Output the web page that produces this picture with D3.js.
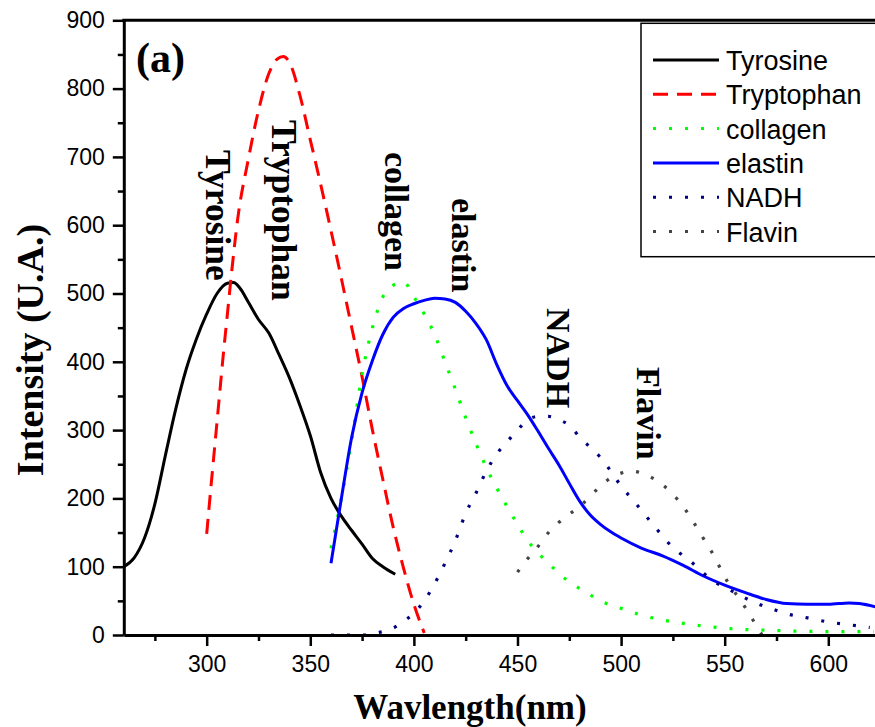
<!DOCTYPE html>
<html>
<head>
<meta charset="utf-8">
<script src="https://cdn.jsdelivr.net/npm/d3@7"></script>
<style>
  html, body { margin: 0; padding: 0; background: #fff; }
  svg { display: block; }
  .tick text { font-family: "Liberation Sans", Arial, sans-serif; font-size: 23px; fill: #000; }
</style>
</head>
<body>
<svg id="chart" width="875" height="727"></svg>
<script>
// Fluorescence emission spectra of endogenous fluorophores, [wavelength nm, intensity]
const tyrosine = [[260,100],[265,113],[270,142],[275,192],[280,262],[285,330],[290,388],[295,433],[300,470],[305,500],[310,515],[313,516],[316,508],[320,488],[325,462],[330,442],[335,410],[340,376],[345,336],[350,292],[355,238],[360,200],[365,174],[370,153],[375,133],[380,112],[385,100],[391,89]];
const tryptophan = [[300,148],[302,215],[304,280],[306,345],[308,410],[310,470],[312,530],[315,610],[320,695],[325,768],[330,822],[334,843],[337,847],[340,838],[345,790],[350,725],[355,660],[360,592],[365,522],[370,450],[375,378],[380,300],[385,228],[390,158],[395,98],[400,45],[405,3]];
const collagen = [[360,127],[365,200],[370,285],[375,382],[380,450],[385,495],[390,512],[395,517],[400,495],[405,470],[410,440],[415,400],[420,360],[425,318],[430,280],[435,245],[440,215],[445,188],[450,162],[455,138],[460,120],[465,105],[470,90],[475,78],[480,68],[485,59],[490,50],[500,39],[510,29],[520,22],[530,17],[540,13],[550,10],[560,8],[570,7],[580,6],[600,5],[622,5]];
const elastin = [[360,105],[365,200],[370,290],[375,355],[380,402],[385,440],[390,465],[395,478],[400,485],[405,490],[410,493],[415,492],[420,487],[425,474],[430,456],[435,432],[440,396],[445,365],[450,343],[455,322],[460,298],[465,273],[470,249],[475,222],[480,196],[485,176],[490,162],[495,151],[500,142],[510,127],[520,116],[530,102],[540,86],[550,73],[560,62],[570,52],[580,46],[590,45],[600,45],[610,47],[615,46],[623,41]];
const nadh = [[360,0],[370,0],[375,0],[380,2],[385,5],[390,10],[395,20],[400,32],[405,50],[410,75],[415,105],[420,138],[425,178],[430,208],[435,240],[440,265],[445,283],[450,300],[455,315],[460,320],[465,320],[470,315],[475,307],[480,290],[485,275],[490,260],[495,240],[500,218],[505,200],[510,182],[515,163],[520,145],[525,128],[530,116],[535,104],[540,90],[545,78],[550,70],[555,62],[560,54],[565,47],[570,41],[575,36],[580,31],[590,25],[600,19],[610,15],[620,11]];
const flavin = [[450,92],[455,112],[460,130],[465,150],[470,165],[475,177],[480,188],[485,203],[490,218],[495,230],[500,237],[505,240],[510,237],[515,230],[520,220],[525,206],[530,188],[535,165],[540,140],[545,115],[550,85],[555,62],[560,40],[565,15],[568,0]];

const seriesNames = ["Tyrosine", "Tryptophan", "collagen", "elastin", "NADH", "Flavin"];
const seriesData = [tyrosine, tryptophan, collagen, elastin, nadh, flavin];
const seriesColors = ["#000000", "#ff0000", "#00ff00", "#0000ff", "#000080", "#444444"];
const seriesDash = [null, "15 9", "3 13", null, "3 13", "3 13"];

const xMajorTicks = [300, 350, 400, 450, 500, 550, 600];
const xMinorTicks = [275, 325, 375, 425, 475, 525, 575, 625];
const yMajorTicks = [0, 100, 200, 300, 400, 500, 600, 700, 800, 900];
const yMinorTicks = [50, 150, 250, 350, 450, 550, 650, 750, 850];

// Band names written vertically beside each emission peak
const peakLabels = ["Tyrosine", "Tryptophan", "collagen", "elastin", "NADH", "Flavin"];
const peakLabelWl = [299.7, 331.5, 386.1, 418.4, 464.1, 507.5];
const peakLabelTop = [150, 120, 152, 198, 308, 367];

const svg = d3.select("#chart");
const x = d3.scaleLinear().domain([260, 625]).range([123.8, 880.1]);
const y = d3.scaleLinear().domain([0, 900]).range([635, 20.3]);

const serif = '"Liberation Serif", "Times New Roman", serif';
const sans = '"Liberation Sans", Arial, sans-serif';

// Curves
const line = d3.line().x(d => x(d[0])).y(d => y(d[1])).curve(d3.curveMonotoneX);
seriesData.forEach((data, i) => {
  svg.append("path")
    .datum(data)
    .attr("d", line)
    .attr("fill", "none")
    .attr("stroke", seriesColors[i])
    .attr("stroke-width", seriesDash[i] === "3 13" ? 3.2 : 3)
    .attr("stroke-dasharray", seriesDash[i])
    .attr("stroke-linejoin", "round");
});

// Axes
function styleAxis(g) {
  g.selectAll("path.domain").attr("stroke", "#000").attr("stroke-width", 3);
  g.selectAll(".tick line").attr("stroke", "#000").attr("stroke-width", 2.5);
}
svg.append("g").attr("transform", "translate(0,635)")
  .call(d3.axisBottom(x).tickValues(xMinorTicks).tickSize(6).tickSizeOuter(0).tickFormat(""))
  .call(g => g.select("path.domain").remove())
  .call(styleAxis);
svg.append("g").attr("transform", "translate(0,635)")
  .call(d3.axisBottom(x).tickValues(xMajorTicks).tickSize(11).tickSizeOuter(0).tickPadding(10))
  .call(styleAxis);
svg.append("g").attr("transform", "translate(123.8,0)")
  .call(d3.axisLeft(y).tickValues(yMinorTicks).tickSize(6).tickSizeOuter(0).tickFormat(""))
  .call(g => g.select("path.domain").remove())
  .call(styleAxis);
svg.append("g").attr("transform", "translate(123.8,0)")
  .call(d3.axisLeft(y).tickValues(yMajorTicks).tickSize(11).tickSizeOuter(0).tickPadding(8))
  .call(styleAxis);
// Top frame line
svg.append("line")
  .attr("x1", 122.3).attr("x2", 880).attr("y1", y(900)).attr("y2", y(900))
  .attr("stroke", "#000").attr("stroke-width", 3);

// Axis titles
svg.append("text")
  .attr("x", 470).attr("y", 719)
  .attr("text-anchor", "middle")
  .attr("font-family", serif).attr("font-weight", "bold").attr("font-size", 35)
  .text("Wavlength(nm)");
svg.append("text")
  .attr("transform", "translate(43,350) rotate(-90)")
  .attr("text-anchor", "middle")
  .attr("font-family", serif).attr("font-weight", "bold").attr("font-size", 38)
  .text("Intensity (U.A.)");

// Panel tag
svg.append("text")
  .attr("x", 136).attr("y", 72)
  .attr("font-family", serif).attr("font-weight", "bold").attr("font-size", 42)
  .text("(a)");

// Rotated peak names
peakLabels.forEach((t, i) => {
  svg.append("text")
    .attr("transform", `translate(${x(peakLabelWl[i])},${peakLabelTop[i]}) rotate(90)`)
    .attr("font-family", serif).attr("font-weight", "bold").attr("font-size", i < 2 ? 35.5 : 34)
    .text(t);
});

// Legend
const legend = svg.append("g");
legend.append("rect")
  .attr("x", 641).attr("y", 23.3).attr("width", 250).attr("height", 233.4)
  .attr("fill", "#fff").attr("stroke", "#000").attr("stroke-width", 1.5);
seriesNames.forEach((name, i) => {
  const ly = 60 + i * 34.3;
  legend.append("line")
    .attr("x1", 653).attr("x2", 719).attr("y1", ly).attr("y2", ly)
    .attr("stroke", seriesColors[i])
    .attr("stroke-width", 3)
    .attr("stroke-dasharray", seriesDash[i]);
  legend.append("text")
    .attr("x", 726).attr("y", ly + 10)
    .attr("font-family", sans).attr("font-size", 27)
    .text(name);
});
</script>
</body>
</html>
